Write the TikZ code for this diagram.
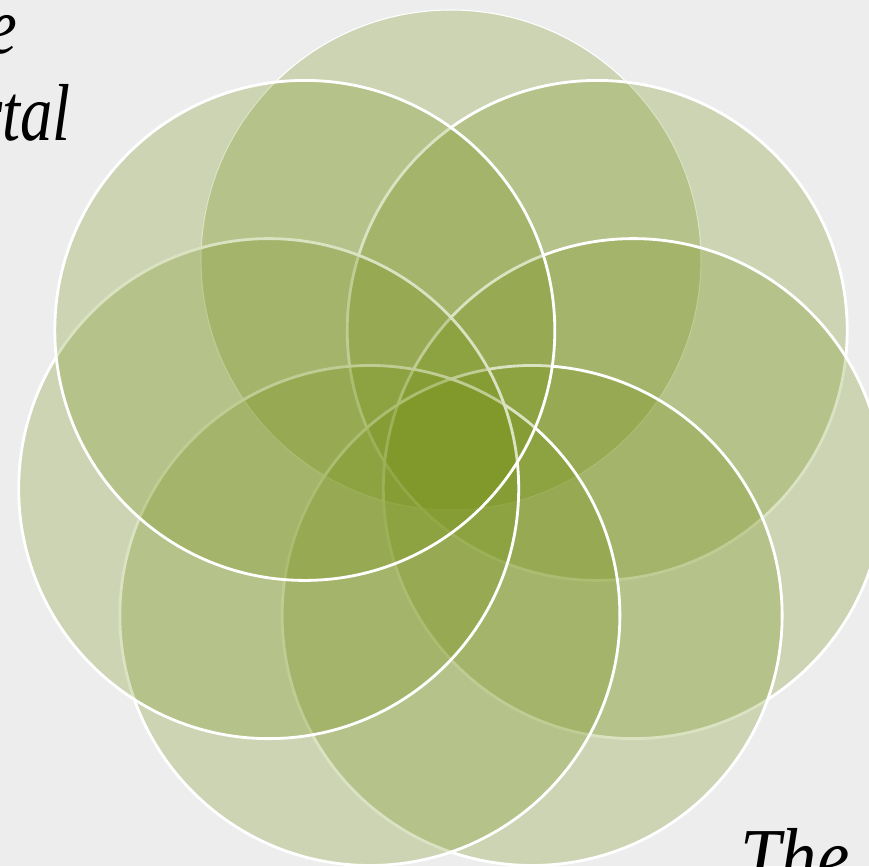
\documentclass[tikz,border=0pt]{standalone}
\usepackage{fontspec}
\setmainfont{Liberation Serif}
\definecolor{paper}{RGB}{237,237,237}
\definecolor{leaf}{RGB}{116,143,18}

\begin{document}
\begin{tikzpicture}[
        x=0.02cm, y=0.02cm,
        petal/.style={fill=leaf, fill opacity=0.26, draw=white, line width=1.6pt},
        word/.style={font=\fontsize{46}{52}\selectfont\itshape, inner sep=0pt, text=black, transform shape}
    ]
        \useasboundingbox (0,0) rectangle (869,-866);
        \fill[paper] (0,0) rectangle (869,-866);
        \clip (0,0) rectangle (869,-866);

        % Seven petals round the middle, drawn clockwise from the top
        \coordinate (mid) at (451,-447);
        \draw[petal, line width=0.6pt] (mid) ++(90:187) circle[radius=250];
        \foreach \k in {1,...,6}
            \draw[petal] (mid) ++({90-\k*360/7}:187) circle[radius=250];

        % Words cut off by the edges
        \node[word, xscale=0.8, anchor=base east] (wordE) at (17,-53) {e};
        \node[word, xscale=0.8, anchor=base east] (wordTal) at (71,-140) {rtal};
        \node[word, xscale=0.9, anchor=base west] (wordThe) at (740,-884) {The};
    \end{tikzpicture}
\end{document}
